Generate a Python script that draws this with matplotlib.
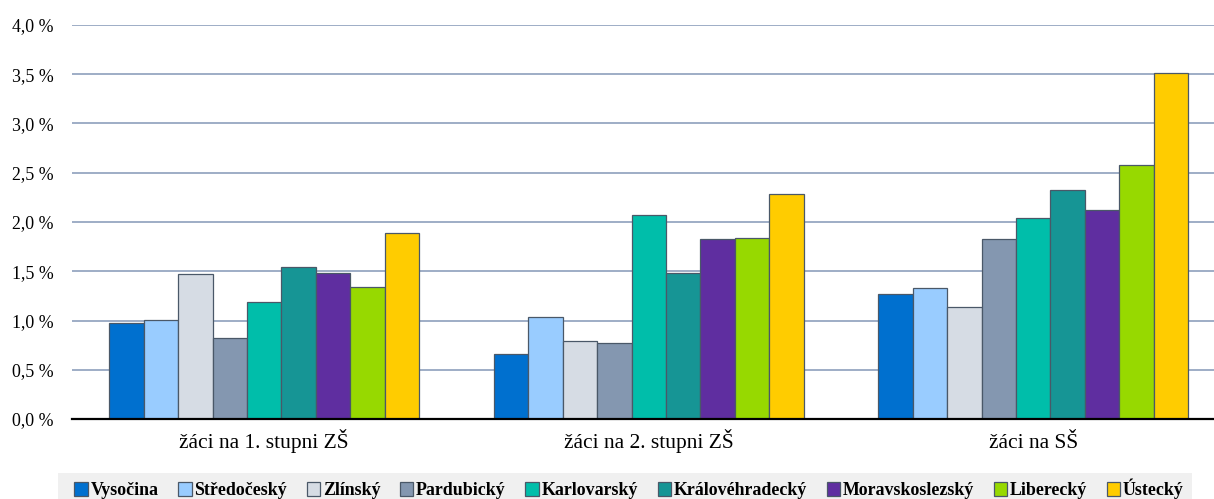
import numpy as np
import matplotlib.pyplot as plt
from matplotlib.patches import Rectangle, Patch
from matplotlib.ticker import FuncFormatter

# Podíl žáků podle krajů (v %)
skupiny = ['žáci na 1. stupni ZŠ', 'žáci na 2. stupni ZŠ', 'žáci na SŠ']
kraje = ['Vysočina', 'Středočeský', 'Zlínský', 'Pardubický', 'Karlovarský',
         'Královéhradecký', 'Moravskoslezský', 'Liberecký', 'Ústecký']
barvy = ['#0070CF', '#99CCFF', '#D6DCE4', '#8497B0', '#00BEAA',
         '#169595', '#5F2EA0', '#97D900', '#FFCC00']

hodnoty = {
    'Vysočina':        [0.97, 0.66, 1.27],
    'Středočeský':     [1.01, 1.04, 1.33],
    'Zlínský':         [1.47, 0.79, 1.14],
    'Pardubický':      [0.82, 0.77, 1.83],
    'Karlovarský':     [1.19, 2.07, 2.04],
    'Královéhradecký': [1.54, 1.48, 2.32],
    'Moravskoslezský': [1.48, 1.83, 2.12],
    'Liberecký':       [1.34, 1.84, 2.58],
    'Ústecký':         [1.89, 2.28, 3.51],
}

plt.rcParams['font.family'] = ['Liberation Serif', 'DejaVu Serif']

fig = plt.figure(figsize=(12.14, 4.99), dpi=100)
ax = fig.add_axes([72 / 1214, 80 / 499, 1 - 72 / 1214, 394 / 499])

x = np.arange(len(skupiny))
sirka = 0.0895
for i, kraj in enumerate(kraje):
    posun = (i - (len(kraje) - 1) / 2) * sirka
    ax.bar(x + posun, hodnoty[kraj], width=sirka, color=barvy[i],
           edgecolor='#4A5868', linewidth=0.9, zorder=3)

ax.set_ylim(0, 4.0)
ax.set_xlim(-0.5, 2.47)
ax.set_yticks(np.arange(0, 4.01, 0.5))
ax.yaxis.set_major_formatter(FuncFormatter(lambda v, p: f'{v:.1f} %'.replace('.', ',')))
ax.set_xticks(x)
ax.set_xticklabels(skupiny)
ax.tick_params(axis='y', length=0, pad=13.5, labelsize=12.9)
ax.tick_params(axis='x', length=0, pad=21, labelsize=15.5)
# popisky skupin zarovnat na účaří
for lbl in ax.get_xticklabels():
    lbl.set_verticalalignment('baseline')

ax.grid(axis='y', color='#8EA0BC', linewidth=1.2, zorder=0)
for s in ['top', 'right', 'left']:
    ax.spines[s].set_visible(False)
ax.spines['bottom'].set_color('black')
ax.spines['bottom'].set_linewidth(1.6)
ax.spines['bottom'].set_zorder(4)

# šedé pozadí legendy
fig.patches.append(Rectangle((58 / 1214, 0), (1192 - 58) / 1214, 26 / 499,
                             transform=fig.transFigure, facecolor='#F0F0F0',
                             edgecolor='none', zorder=0))
handles = [Patch(facecolor=barvy[i], edgecolor='#4A5868', linewidth=0.9)
           for i in range(len(kraje))]
fig.legend(handles, kraje, loc='center', bbox_to_anchor=(629 / 1214, 1 - 489 / 499),
           ncol=9, frameon=False, handlelength=0.75, handleheight=0.75,
           handletextpad=0.15, columnspacing=1.1,
           prop={'weight': 'bold', 'size': 12.9})

fig.savefig('out.png', dpi=100)
